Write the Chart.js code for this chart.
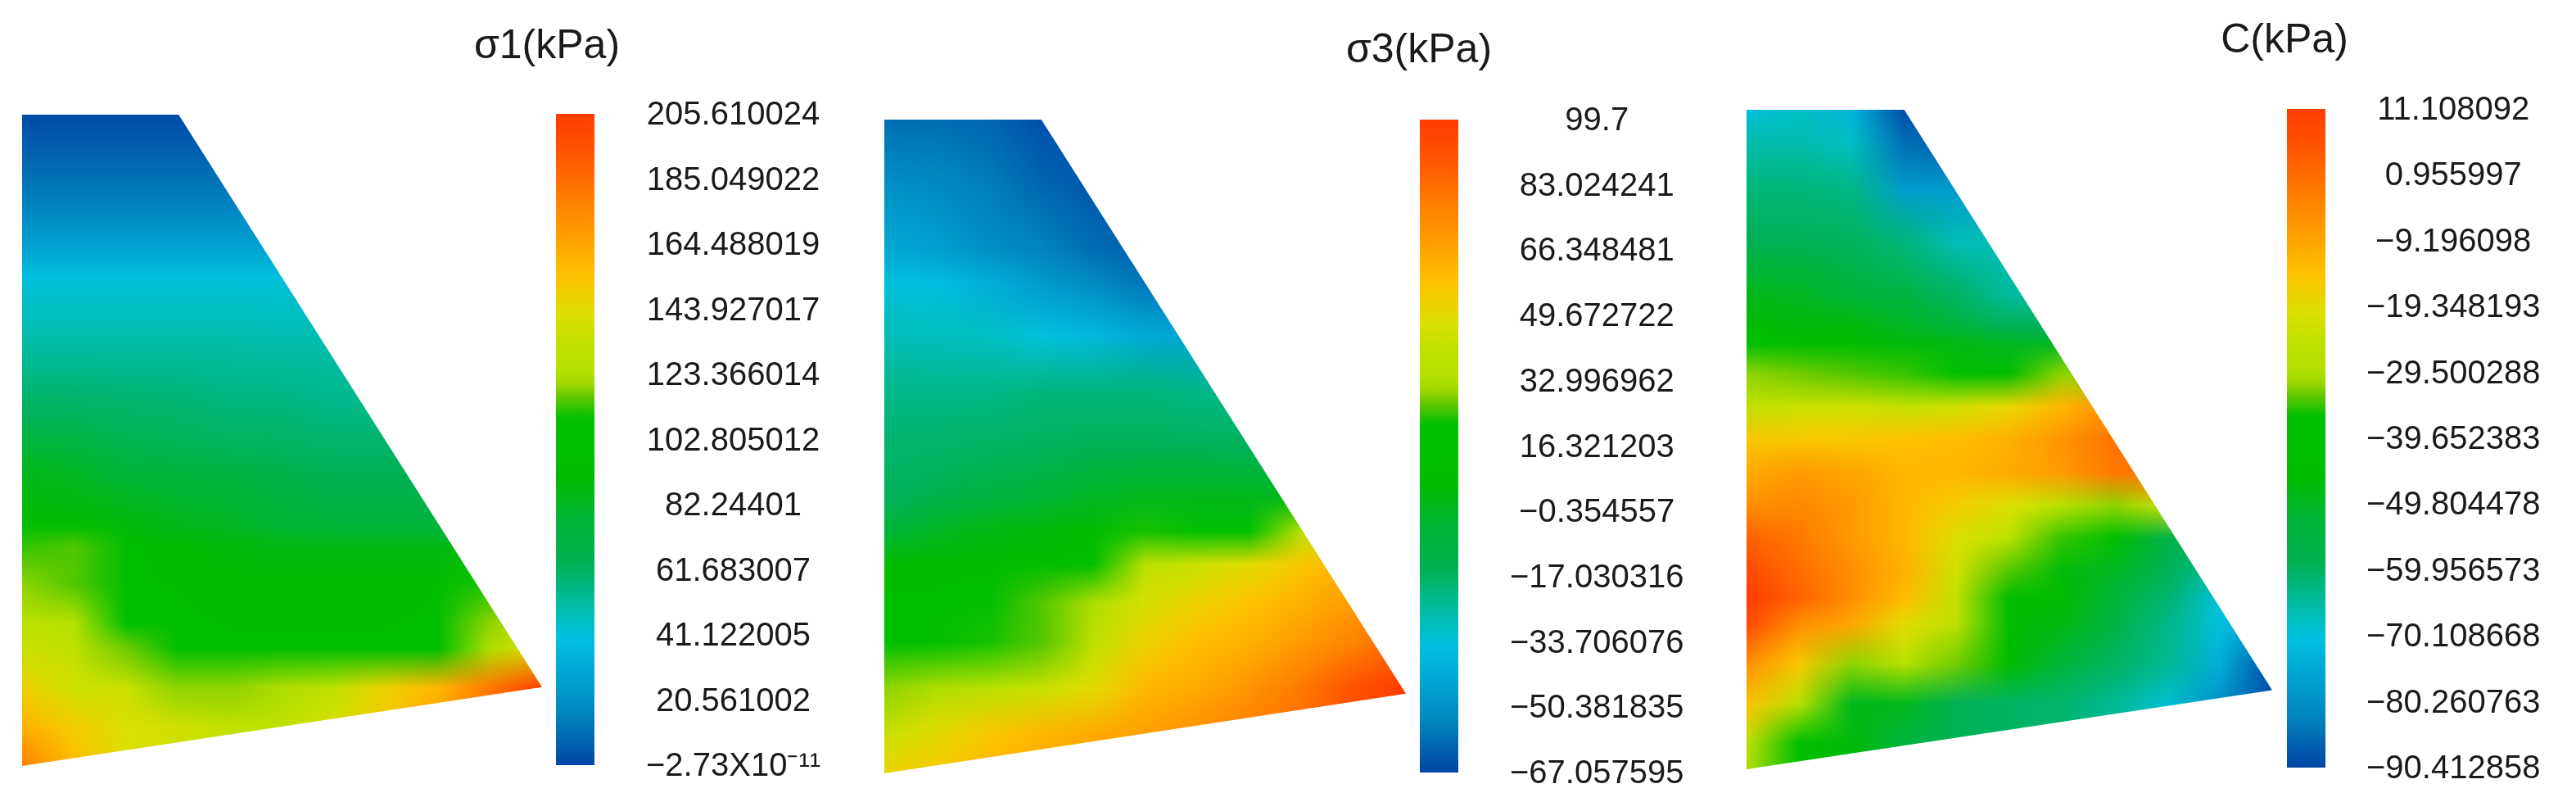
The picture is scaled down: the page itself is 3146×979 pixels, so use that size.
<!DOCTYPE html>
<html><head><meta charset="utf-8">
<style>
html,body{margin:0;padding:0;background:#fff;width:3146px;height:979px;overflow:hidden}
canvas{position:absolute;display:block}
</style>
<script src="https://cdn.jsdelivr.net/npm/chart.js@4"></script>
</head><body>
<script>
// Shared column positions of the sampled field (fraction of the section's width)
const fieldCols = [0,.1,.2,.3,.4,.5,.6,.7,.8,.9,1];

// Colour map: position in the colour bar -> colour
const cmapPos = [0,.083,.146,.196,.25,.313,.376,.44,.532,.565,.586,.606,.649,.69,.753,.816,.88,.942,1];
const cmapRGB = [[0,70,165],[0,136,192],[0,168,212],[0,192,224],[0,188,160],[0,176,80],[0,180,56],[0,188,0],[0,192,0],[96,200,0],[160,216,0],[180,224,0],[192,224,0],[220,224,0],[255,192,0],[255,156,0],[255,120,0],[255,84,0],[255,60,0]];

// sigma 1
const s1Title = 'σ1(kPa)';
const s1Ticks = [205.610024,185.049022,164.488019,143.927017,123.366014,102.805012,82.24401,61.683007,41.122005,20.561002,-2.73e-11];
const s1Labels = ['205.610024','185.049022','164.488019','143.927017','123.366014','102.805012','82.24401','61.683007','41.122005','20.561002','−2.73X10⁻¹¹'];
const s1PolyX = [0,.301,1,0];
const s1PolyY = [0,0,.879,1];
const s1Rows = [0,.1,.2,.25,.35,.45,.55,.63,.665,.72,.78,.82,.88,.94,1];
// field values, as percent of the colour bar's range, one row per s1Rows entry
const s1Field = [
[.5,.5,.5,.5,.5,.5,.5,.5,.5,.5,.5],
[5.5,5.5,5.5,5.5,5.5,5.5,5.5,5.5,5.5,5.5,5.5],
[13,13,13,13,13,13,13,13,13,13,13],
[20,20,20,20,20,20,20,20,20,20,20],
[24.5,24.5,24.5,24.5,24.5,24,24,24,24,24,24],
[30,30,29.5,29,28,28,27,27,27,27,27],
[41,40,37,36,35,33,31,31,31,31,31],
[47,46,43,41,40,38,37,37,36,36,36],
[55,56,49,44,43,42,42,42,42,43,43],
[58,56,48,47,46,46,46,46,47,54,58],
[63,61,52,48,47,47,47,47,48,58,68],
[66,64,57,50,48,48,48,48,50,60,70],
[72,67,66,58,58,60,64,72,77,88,100],
[78,73,69,67,65,64,68,74,82,90,100],
[87,76,69,67,65,64,68,74,82,90,100]];

// sigma 3
const s3Title = 'σ3(kPa)';
const s3Ticks = [99.7,83.024241,66.348481,49.672722,32.996962,16.321203,-0.354557,-17.030316,-33.706076,-50.381835,-67.057595];
const s3Labels = ['99.7','83.024241','66.348481','49.672722','32.996962','16.321203','−0.354557','−17.030316','−33.706076','−50.381835','−67.057595'];
const s3PolyX = [0,.301,1,0];
const s3PolyY = [0,0,.878,1];
const s3Rows = [0,.1,.2,.25,.33,.42,.5,.58,.63,.68,.74,.8,.87,.94,1];
const s3Field = [
[5,5,4,1,1,1,1,1,1,1,1],
[10,9,7,4,2,1,1,1,1,1,1],
[15,13,10,8,5,3,3,3,3,3,3],
[20,19,16,12,9,6,6,6,6,6,6],
[23,22.5,22,20,18,15,14,14,14,14,14],
[27,27,27,28,28,28,27,27,27,27,27],
[29,29.5,30,30.5,31,31,31,30.5,30.5,30.5,30.5],
[30.5,33,36,38,40,41,41,41,42,42,42],
[37,40,42,43,44,54,53,52,62,62,62],
[46,46,46,46,50,62,66,70,74,78,78],
[48,48,50,56,60,68,72,75,78,82,82],
[52,52,54,56,63,72,76,78,82,86,92],
[58,60,62,66,70,77,79,83,88,95,100],
[66,70,74,77,79,81,84,87,90,95,100],
[71,74,77,79,81,83,85,88,90,95,100]];

// C
const cTitle = 'C(kPa)';
const cTicks = [11.108092,0.955997,-9.196098,-19.348193,-29.500288,-39.652383,-49.804478,-59.956573,-70.108668,-80.260763,-90.412858];
const cLabels = ['11.108092','0.955997','−9.196098','−19.348193','−29.500288','−39.652383','−49.804478','−59.956573','−70.108668','−80.260763','−90.412858'];
const cPolyX = [0,.30,1,0];
const cPolyY = [0,0,.88,1];
const cRows = [0,.05,.12,.2,.28,.33,.355,.4,.45,.5,.55,.6,.65,.7,.74,.78,.84,.9,.96,1];
const cField = [
[20,22,17,1,1,1,1,1,1,1,1],
[24,24,22,5,3,3,3,3,3,3,3],
[28,28,27,12,12,12,12,12,12,12,12],
[31,31,30.5,28,23,23,23,23,23,23,23],
[41,40,37,35,30,25,25,25,25,25,25],
[45,43,43,40,37,31,31,31,31,31,31],
[53,47,46,43,42,40,40,40,40,40,40],
[58,57,56,55,50,48,58,58,58,58,58],
[65,66,67,65,67,71,77,84,84,84,84],
[74,74,74,75,76,78,83,89,89,89,89],
[79,82,80,77,77,79,82,88,90,90,90],
[84,85,82,77,73,69,62,58,66,66,66],
[92,88,82,77,69,62,55,50,33,33,33],
[97,90,84,78,67,56,43,40,31,25,25],
[100,92,84,76,64,46,46,37,29,20,20],
[97,84,80,70,63,46,42,35,27,20,12],
[84,74,58,62,57,44,37,30,26,16,1],
[75,62,41,41,31,30,29,26,21,10,1],
[65,50,43,36,31,30,29,26,21,10,1],
[60,50,43,36,31,30,29,26,21,10,1]];

function cmap(t){
  t=Math.max(0,Math.min(1,t));
  let i=0; while(i<cmapPos.length-2 && t>cmapPos[i+1]) i++;
  const f=(t-cmapPos[i])/(cmapPos[i+1]-cmapPos[i]);
  return cmapRGB[i].map((c,k)=>c+(cmapRGB[i+1][k]-c)*f);
}

// Paints the sampled field through the chart's scales, clipped to the section outline
const fieldPlugin = {
  id:'fieldPlugin',
  beforeDatasetsDraw(chart){
    const ds=chart.data.datasets[0], poly=chart.data.datasets[1].data;
    const xs=chart.scales.x, ys=chart.scales.y, a=chart.chartArea;
    const cols=ds.cols, rows=ds.rows, lo=ds.lo, hi=ds.hi;
    const nc=cols.length, colors=ds.data.map(p=>cmap((p.v-lo)/(hi-lo)));
    const W=Math.ceil(a.right-a.left), H=Math.ceil(a.bottom-a.top);
    const off=document.createElement('canvas'); off.width=W; off.height=H;
    const oc=off.getContext('2d'), img=oc.createImageData(W,H), d=img.data;
    const find=(arr,v)=>{let i=0; while(i<arr.length-2 && v>arr[i+1]) i++; return [i,Math.max(0,Math.min(1,(v-arr[i])/(arr[i+1]-arr[i])))];};
    const ux=[]; for(let px=0;px<W;px++) ux.push(find(cols,xs.getValueForPixel(a.left+px+.5)));
    for(let py=0;py<H;py++){
      const [r,fy]=find(rows,ys.getValueForPixel(a.top+py+.5));
      for(let px=0;px<W;px++){
        const [c,fx]=ux[px];
        const c00=colors[r*nc+c],c01=colors[r*nc+c+1],c10=colors[(r+1)*nc+c],c11=colors[(r+1)*nc+c+1];
        const o=(py*W+px)*4;
        for(let k=0;k<3;k++) d[o+k]=(c00[k]*(1-fx)+c01[k]*fx)*(1-fy)+(c10[k]*(1-fx)+c11[k]*fx)*fy;
        d[o+3]=255;
      }
    }
    oc.putImageData(img,0,0);
    const ctx=chart.ctx; ctx.save(); ctx.beginPath();
    poly.forEach((p,i)=>{const X=xs.getPixelForValue(p.x),Y=ys.getPixelForValue(p.y); i?ctx.lineTo(X,Y):ctx.moveTo(X,Y);});
    ctx.closePath(); ctx.clip();
    ctx.drawImage(off,a.left,a.top); ctx.restore();
  }
};

function place(l,t,w,h){const el=document.createElement('canvas');el.width=w;el.height=h;
  el.style.cssText=`left:${l}px;top:${t}px;width:${w}px;height:${h}px`;document.body.appendChild(el);return el;}

const CH=1100; // colour-bar canvases run past the window so the layout has room below the bar

function drawPanel(o){
  const lo=Math.min(...o.ticks), hi=Math.max(...o.ticks);
  const points=[]; o.rows.forEach((y,r)=>fieldCols.forEach((x,c)=>points.push({x,y,v:lo+o.field[r][c]/100*(hi-lo)})));
  new Chart(place(o.box[0],o.box[1],o.box[2],o.box[3]),{
    type:'scatter',
    data:{datasets:[
      {label:'field',data:points,cols:fieldCols,rows:o.rows,lo,hi,pointRadius:0,showLine:false},
      {label:'outline',data:o.polyX.map((x,i)=>({x,y:o.polyY[i]})),pointRadius:0,showLine:false}
    ]},
    options:{responsive:false,animation:false,layout:{padding:0},
      plugins:{legend:{display:false},title:{display:false},tooltip:{enabled:false}},
      scales:{x:{type:'linear',min:0,max:1,display:false},y:{type:'linear',min:0,max:1,reverse:true,display:false}}},
    plugins:[fieldPlugin]
  });
  // colour bar with its value axis and the title
  const [L,barL,barR,R,barTop,barBot]=o.bar;
  const lh=60, tp=o.titleY-lh/2, bp=barTop-lh-tp;
  const ch=new Chart(place(L,0,R-L,CH),{
    type:'bar',
    data:{labels:[o.title],datasets:[{data:[[lo,hi]],yAxisID:'y',barPercentage:1,categoryPercentage:1,borderWidth:0,
      backgroundColor(ctx){
        const c=ctx.chart; if(!c.chartArea) return '#000';
        const y=c.scales.y, g=c.ctx.createLinearGradient(0,y.getPixelForValue(lo),0,y.getPixelForValue(hi));
        cmapPos.forEach((p,i)=>g.addColorStop(p,`rgb(${cmapRGB[i].join(',')})`));
        return g;
      }}]},
    options:{responsive:false,animation:false,
      layout:{padding:{left:0,right:0,top:0,bottom:CH-barBot}},
      plugins:{legend:{display:false},tooltip:{enabled:false},
        title:{display:true,text:o.title,color:'#1a1a1a',font:{family:'"Liberation Sans"',size:50,weight:'normal',lineHeight:lh+'px'},padding:{top:tp,bottom:bp}}},
      scales:{
        x:{display:false},
        spacer:{position:'left',grid:{display:false,drawTicks:false},border:{display:false},ticks:{display:false},
          afterFit(ax){ax.width=barL-L;}},
        y:{position:'right',min:lo,max:hi,grid:{display:false,drawTicks:false},border:{display:false},
          afterBuildTicks(ax){ax.ticks=o.ticks.map(value=>({value}));},
          afterFit(ax){ax.width=R-barR;},
          ticks:{autoSkip:false,crossAlign:'center',padding:o.tickPad,labelOffset:2,color:'#1a1a1a',
            font:{family:'"Liberation Sans"',size:40,lineHeight:1.1},
            callback(v,i){return o.labels[i];}}}
      }}
  });
  // settle the plot area on the bar's measured top and bottom
  for(let n=0;n<3;n++){
    const err=barBot-ch.scales.y.bottom;
    if(Math.abs(err)<.5) break;
    ch.options.layout.padding.bottom-=err;
    ch.update();
  }
}

drawPanel({title:s1Title,ticks:s1Ticks,labels:s1Labels,polyX:s1PolyX,polyY:s1PolyY,rows:s1Rows,field:s1Field,
  box:[27,140,635,795],bar:[310,679,726,1026,139,934],titleY:57,tickPad:63});
drawPanel({title:s3Title,ticks:s3Ticks,labels:s3Labels,polyX:s3PolyX,polyY:s3PolyY,rows:s3Rows,field:s3Field,
  box:[1080,146,637,798],bar:[1395,1734,1781,2071,146,943],titleY:62,tickPad:63});
drawPanel({title:cTitle,ticks:cTicks,labels:cLabels,polyX:cPolyX,polyY:cPolyY,rows:cRows,field:cField,
  box:[2133,134,642,805],bar:[2450,2793,2840,3130,133,937],titleY:50,tickPad:50});
</script>
</body></html>
